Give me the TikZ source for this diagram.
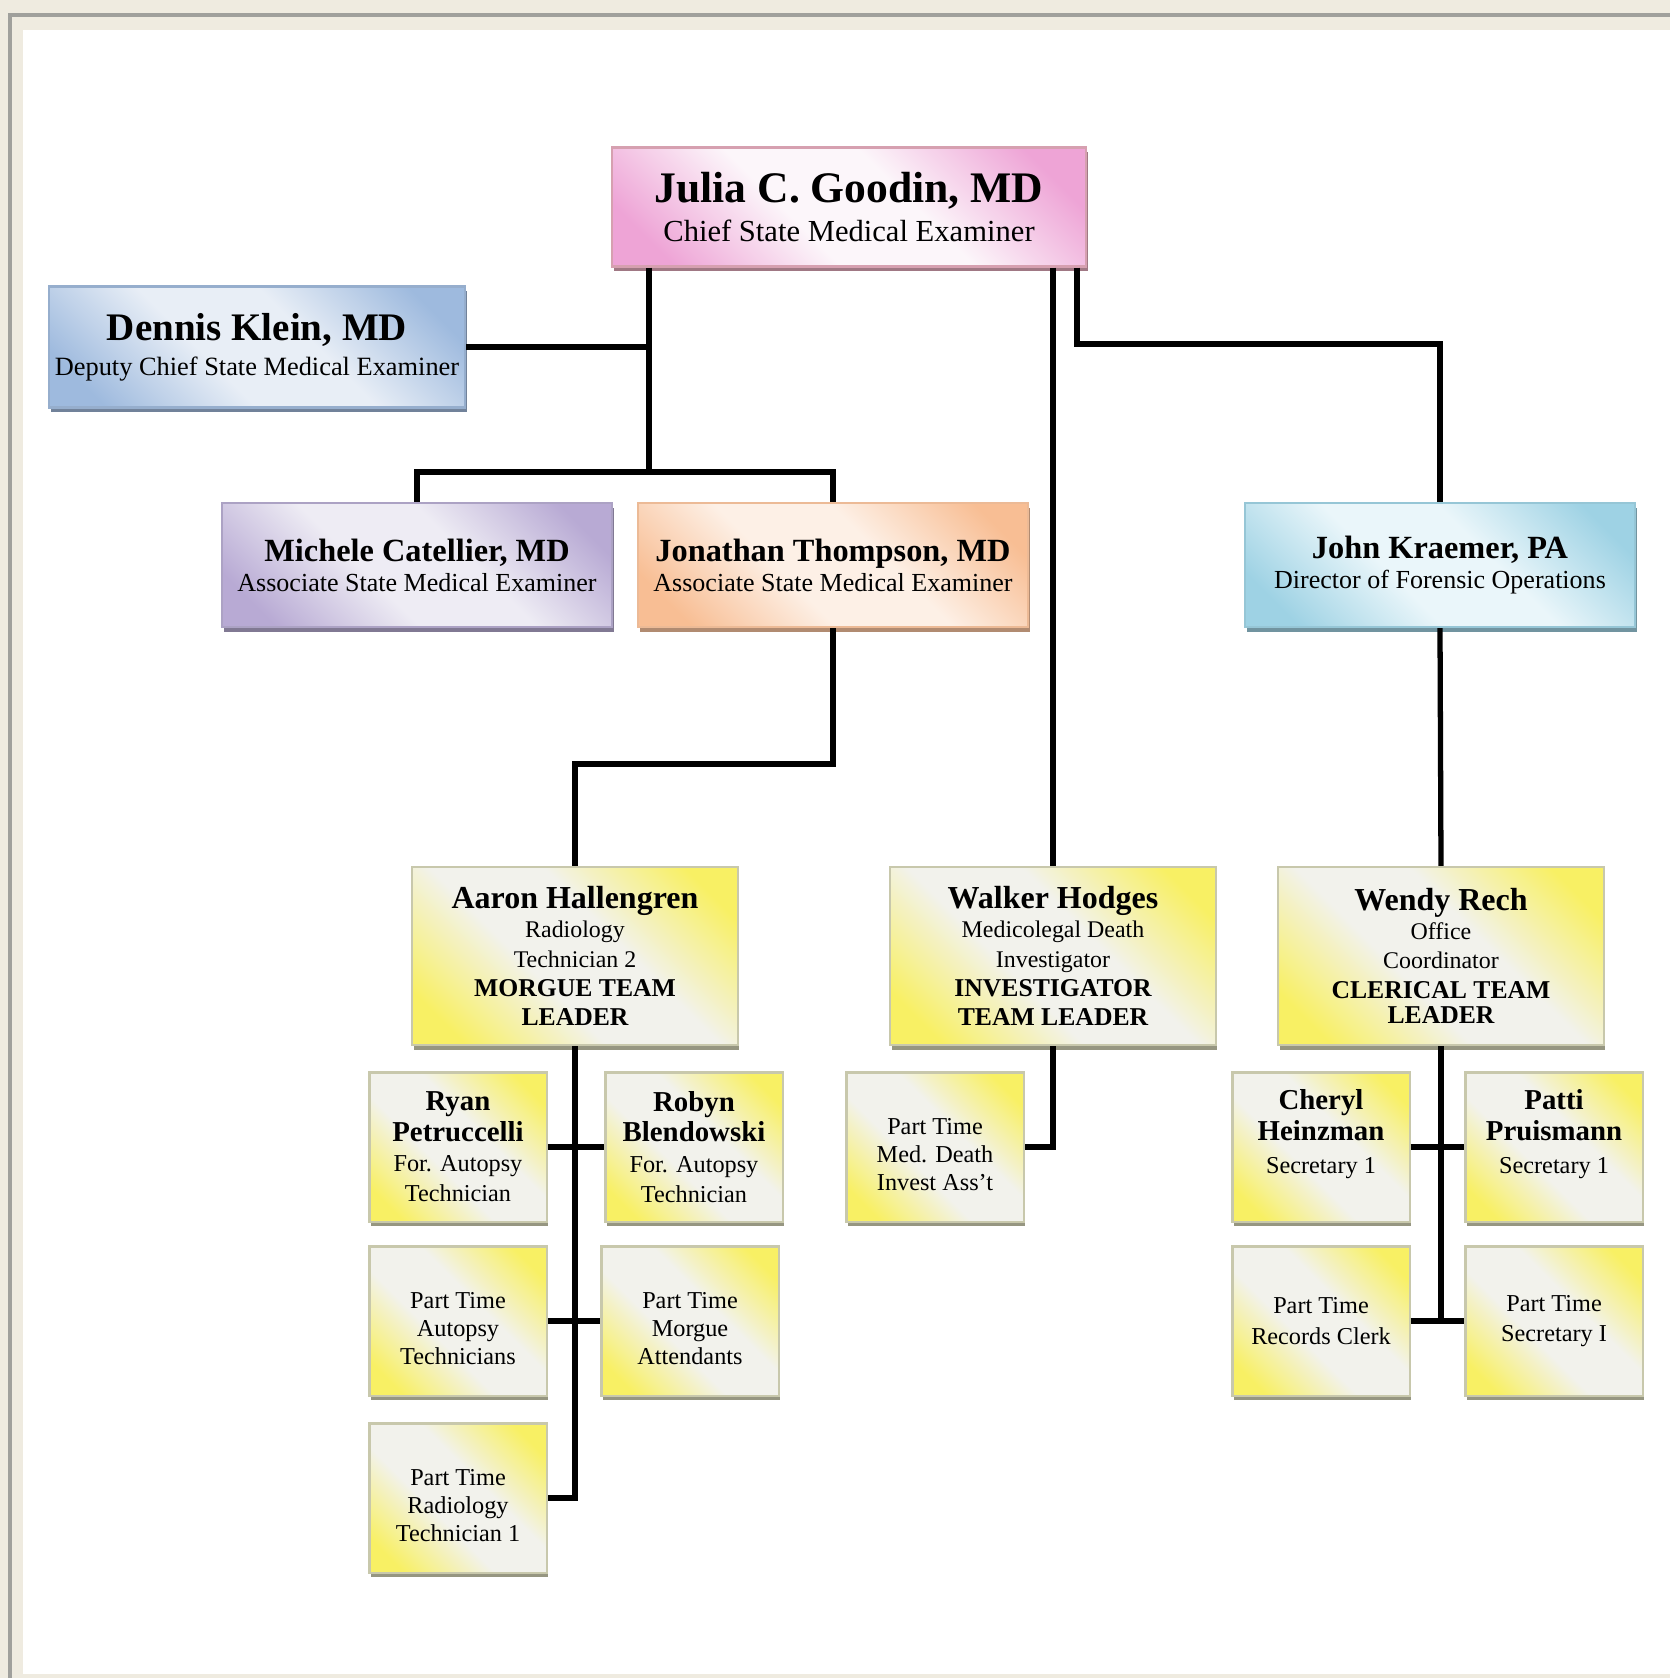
\documentclass[tikz,border=0pt]{standalone}
\usepackage{fontspec}
\setmainfont{Liberation Serif}
\usetikzlibrary{shadows}

\definecolor{paper}{RGB}{239,235,224}
\definecolor{framegrey}{RGB}{160,160,156}
\definecolor{chiefpink}{RGB}{238,164,214}
\definecolor{chiefwhite}{RGB}{252,246,250}
\definecolor{chiefedge}{RGB}{214,160,176}
\definecolor{deputyblue}{RGB}{158,186,222}
\definecolor{deputywhite}{RGB}{232,238,246}
\definecolor{deputyedge}{RGB}{150,174,205}
\definecolor{assocpurple}{RGB}{184,170,212}
\definecolor{assocwhite}{RGB}{238,236,244}
\definecolor{assocedge}{RGB}{172,162,196}
\definecolor{assocorange}{RGB}{248,190,148}
\definecolor{assocpeach}{RGB}{253,240,230}
\definecolor{orangeedge}{RGB}{236,186,150}
\definecolor{forensicblue}{RGB}{158,210,228}
\definecolor{forensicwhite}{RGB}{234,246,250}
\definecolor{forensicedge}{RGB}{150,198,214}
\definecolor{teamyellow}{RGB}{248,240,100}
\definecolor{teamwhite}{RGB}{242,242,236}
\definecolor{teamedge}{RGB}{200,200,172}

% two colours, set per card
\colorlet{cardedge}{white}
\colorlet{cardmid}{white}
\pgfdeclareverticalshading[cardedge,cardmid]{cardshade}{100bp}{color(0bp)=(cardedge); color(22bp)=(cardedge); color(42bp)=(cardmid); color(58bp)=(cardmid); color(78bp)=(cardedge); color(100bp)=(cardedge)}

\newcommand{\bossname}{\fontsize{12.4pt}{12pt}\selectfont\bfseries}
\newcommand{\deputyname}{\fontsize{11.1pt}{11pt}\selectfont\bfseries}
\newcommand{\assocname}{\fontsize{9.2pt}{9pt}\selectfont\bfseries}
\newcommand{\leadname}{\fontsize{9.1pt}{9pt}\selectfont\bfseries}
\newcommand{\teamname}{\fontsize{7.3pt}{8pt}\selectfont\bfseries}
\newcommand{\staffname}{\fontsize{8.2pt}{9pt}\selectfont\bfseries}
\newcommand{\ptstrut}{\rule{0pt}{9pt}}

\tikzset{
  card/.style n args={3}{rectangle, inner sep=1pt, align=center,
    /utils/exec={\colorlet{cardedge}{#1}\colorlet{cardmid}{#2}},
    shade, shading=cardshade, shading angle=-45,
    draw=#3, line width=0.6pt,
    drop shadow={shadow xshift=0.5pt, shadow yshift=-1.4pt, fill=#3!75!black, opacity=1}},
  chiefbox/.style={card={chiefpink}{chiefwhite}{chiefedge}, minimum width=4.74cm, minimum height=1.19cm,
    font=\fontsize{8.7pt}{11.2pt}\selectfont},
  deputybox/.style={card={deputyblue}{deputywhite}{deputyedge}, minimum width=4.16cm, minimum height=1.21cm,
    font=\fontsize{7.5pt}{10pt}\selectfont},
  assocbox/.style={minimum width=3.9cm, minimum height=1.24cm, font=\fontsize{7.4pt}{8.5pt}\selectfont},
  leadbox/.style={card={teamyellow}{teamwhite}{teamedge}, minimum width=3.25cm, minimum height=1.78cm,
    font=\fontsize{6.8pt}{8.3pt}\selectfont},
  staffbox/.style={card={teamyellow}{teamwhite}{teamedge}, minimum width=1.77cm, minimum height=1.49cm,
    font=\fontsize{6.9pt}{8.6pt}\selectfont},
  parttime/.style={staffbox, font=\fontsize{6.9pt}{8pt}\selectfont},
  link/.style={line width=1.5pt}
}

\begin{document}
\begin{tikzpicture}[x=0.01cm, y=-0.01cm]
 \useasboundingbox (0,0) rectangle (1670,1678);
 \fill[paper] (0,0) rectangle (1670,1678);
 \draw[framegrey, line width=1.2pt] (10,1678) |- (1670,15);
 \fill[white] (23,30) rectangle (1670,1674);

 % top of the office
 \node[chiefbox] (goodin) at (849,207) {{\bossname Julia C. Goodin, MD}\\Chief State Medical Examiner};
 \node[deputybox] (klein) at (257,347) {{\deputyname Dennis Klein, MD}\\Deputy Chief State Medical Examiner};
 \node[assocbox, card={assocpurple}{assocwhite}{assocedge}] (catellier) at (417,565) {{\assocname Michele Catellier, MD}\\Associate State Medical Examiner};
 \node[assocbox, card={assocorange}{assocpeach}{orangeedge}] (thompson) at (833,565) {{\assocname Jonathan Thompson, MD}\\Associate State Medical Examiner};
 \node[assocbox, card={forensicblue}{forensicwhite}{forensicedge}] (kraemer) at (1440,565) {{\assocname John Kraemer, PA}\\Director of Forensic Operations};

 % team leaders
 \node[leadbox] (hallengren) at (575,956) {{\leadname Aaron Hallengren}\\Radiology\\Technician 2\\{\teamname MORGUE TEAM}\\{\teamname LEADER}};
 \node[leadbox] (hodges) at (1053,956) {{\leadname Walker Hodges}\\Medicolegal Death\\Investigator\\{\teamname INVESTIGATOR}\\{\teamname TEAM LEADER}};
 \node[leadbox] (rech) at (1441,956) {{\leadname Wendy Rech}\\Office\\Coordinator\\{\teamname CLERICAL TEAM}\\[-1pt]{\teamname LEADER}};

 % morgue team
 \node[staffbox] (petruccelli) at (458,1147) {{\staffname Ryan}\\{\staffname Petruccelli}\\For. Autopsy\\Technician};
 \node[staffbox] (blendowski) at (694,1147) {{\staffname Robyn}\\{\staffname Blendowski}\\For. Autopsy\\Technician};
 \node[parttime] (ptautopsy) at (458,1321) {\ptstrut Part Time\\Autopsy\\Technicians};
 \node[parttime] (ptmorgue) at (690,1321) {\ptstrut Part Time\\Morgue\\Attendants};
 \node[parttime] (ptradiology) at (458,1498) {\ptstrut Part Time\\Radiology\\Technician 1};

 % investigators
 \node[parttime] (ptinvest) at (935,1147) {\ptstrut Part Time\\Med. Death\\Invest Ass't};

 % clerical team
 \node[staffbox] (heinzman) at (1321,1147) {{\staffname Cheryl}\\{\staffname Heinzman}\\[1pt]Secretary 1\\[0pt]};
 \node[staffbox] (pruismann) at (1554,1147) {{\staffname Patti}\\{\staffname Pruismann}\\[1pt]Secretary 1\\[0pt]};
 \node[staffbox] (ptrecords) at (1321,1321) {Part Time\\Records Clerk};
 \node[staffbox] (ptsecretary) at (1554,1321) {Part Time\\Secretary I};

 % connectors
 \coordinate (mesplit) at (649,472);
 \coordinate (opsbend) at (1077,344);
 \draw[link] (goodin.south -| mesplit) -- (mesplit);
 \draw[link] (klein.east) -- (klein.east -| mesplit);
 \draw[link] (catellier.north) |- (mesplit) -| (thompson.north);
 \draw[link] (goodin.south -| hodges.north) -- (hodges.north);
 \draw[link] (goodin.south -| opsbend) -- (opsbend) -| (kraemer.north);
 \draw[link] (thompson.south) -- ++(0,136) -| (hallengren.north);
 \draw[link] (kraemer.south) -- (rech.north);

 \draw[link] (hallengren.south) |- (ptradiology.east);
 \draw[link] (petruccelli.east) -- (blendowski.west);
 \draw[link] (ptautopsy.east) -- (ptmorgue.west);
 \draw[link] (hodges.south) |- (ptinvest.east);
 \draw[link] (rech.south) -- (rech.south |- ptrecords.east);
 \draw[link] (heinzman.east) -- (pruismann.west);
 \draw[link] (ptrecords.east) -- (ptsecretary.west);
\end{tikzpicture}
\end{document}
